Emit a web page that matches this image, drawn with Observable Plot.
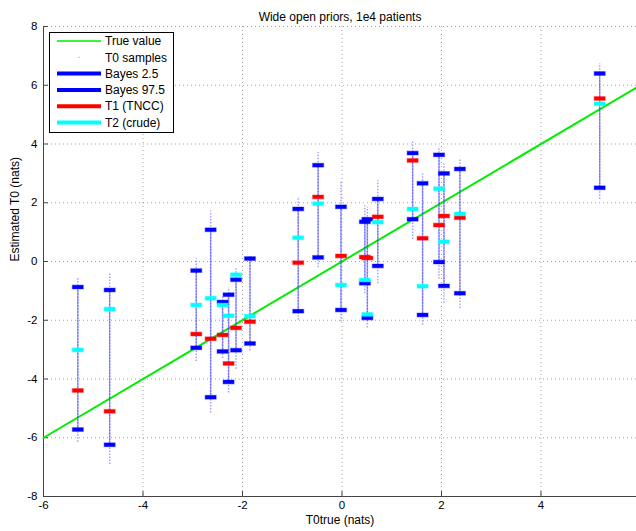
<!DOCTYPE html>
<html><head><meta charset="utf-8">
<script src="https://cdn.jsdelivr.net/npm/d3@7"></script>
<script src="https://cdn.jsdelivr.net/npm/@observablehq/plot@0.6"></script>
<style>
body{margin:0;background:#fff;}
#chart{width:636px;height:531px;}
</style>
</head><body><div id="chart"></div>
<script>
// True T0 value of each simulated case (x) and the estimates
const t0True   = [-5.31, -4.67, -2.93, -2.64, -2.40, -2.28, -2.13, -1.85, -0.88, -0.48, -0.02, 0.46, 0.51, 0.72, 1.42, 1.62, 1.95, 2.05, 2.37, 5.18];
const bayesLo  = [-5.72, -6.24, -2.94, -4.62, -3.06, -4.10, -3.02, -2.79, -1.69, 0.14, -1.65, -0.74, -1.92, -0.15, 1.44, -1.82, -0.02, -0.83, -1.08, 2.51];
const bayesHi  = [-0.87, -0.97, -0.31, 1.08, -1.38, -1.13, -0.62, 0.10, 1.79, 3.28, 1.86, 1.35, 1.44, 2.13, 3.69, 2.66, 3.63, 3.00, 3.15, 6.40];
const t1Tncc   = [-4.39, -5.10, -2.47, -2.63, -2.50, -3.47, -2.26, -2.05, -0.04, 2.20, 0.19, 0.15, 0.12, 1.52, 3.44, 0.79, 1.24, 1.55, 1.49, 5.55];
const t2Crude  = [-3.01, -1.62, -1.48, -1.25, -1.48, -1.85, -0.45, -1.86, 0.81, 1.97, -0.80, -0.63, -1.80, 1.34, 1.79, -0.84, 2.48, 0.67, 1.62, 5.37];
const sampleLo = [-6.15, -6.91, -3.40, -5.16, -3.30, -4.48, -3.67, -3.05, -2.00, -0.21, -2.05, -1.10, -2.26, -0.76, 0.75, -2.17, -0.60, -1.42, -1.60, 2.12];
const sampleHi = [-0.56, -0.42, 0.09, 1.72, -1.20, -0.89, -0.22, 0.22, 2.20, 3.71, 2.75, 1.90, 1.85, 2.75, 4.10, 2.98, 3.90, 3.32, 3.50, 6.73];

const xTicks = [-6, -4, -2, 0, 2, 4];
const yTicks = [-8, -6, -4, -2, 0, 2, 4, 6, 8];
const xDomain = [-6, 5.92];
const yDomain = [-8, 8];
const legendLabels = ["True value", "T0 samples", "Bayes 2.5", "Bayes 97.5", "T1 (TNCC)", "T2 (crude)"];
const legendColors = ["#00ee00", "#3b3bff", "#0000ff", "#0000ff", "#ff0000", "#00ffff"];

const rows = t0True.map((x, i) => ({
  x, lo: bayesLo[i], hi: bayesHi[i], t1: t1Tncc[i], t2: t2Crude[i], sLo: sampleLo[i], sHi: sampleHi[i]
}));

const barSymbol = {draw(ctx) { ctx.rect(-5.5, -1.9, 11, 3.8); }};
const font = "'Liberation Sans', Arial, Helvetica, sans-serif";
const barOpts = (y, color) => ({x: "x", y, symbol: barSymbol, fill: color, stroke: color, strokeOpacity: 0.35, strokeWidth: 1.2});

const plot = Plot.plot({
  width: 636, height: 531,
  marginLeft: 43, marginRight: 0, marginTop: 26, marginBottom: 35,
  style: {fontFamily: font, fontSize: "11.5px", color: "#000", background: "#fff"},
  x: {domain: xDomain, ticks: xTicks},
  y: {domain: yDomain, ticks: yTicks},
  marks: [
    Plot.gridX({ticks: xTicks.filter(d => d > xDomain[0]), stroke: "#999", strokeOpacity: 0.9, strokeDasharray: "1,3"}),
    Plot.gridY({ticks: yTicks.filter(d => d > yDomain[0]), stroke: "#999", strokeOpacity: 0.9, strokeDasharray: "1,3"}),
    Plot.ruleX([xDomain[0]], {stroke: "#444", strokeWidth: 1}),
    Plot.ruleY([yDomain[0]], {stroke: "#444", strokeWidth: 1}),
    Plot.ruleX(xTicks, {x: d => d, y1: yDomain[0], y2: yDomain[0] + 0.17, stroke: "#444"}),
    Plot.ruleY(yTicks, {y: d => d, x1: xDomain[0], x2: xDomain[0] + 0.1, stroke: "#444"}),
    Plot.axisX({ticks: xTicks, tickSize: 0, tickPadding: 4, tickFormat: d => String(d), label: null, fontSize: 11.5}),
    Plot.axisY({ticks: yTicks, tickSize: 0, tickPadding: 6, tickFormat: d => String(d), label: null, fontSize: 11.5}),
    // true value line y = x
    Plot.line(xDomain, {x: d => d, y: d => d, stroke: "#00ee00", strokeWidth: 2}),
    // T0 samples
    Plot.ruleX(rows, {x: "x", y1: "sLo", y2: "sHi", stroke: "#3b3bff", strokeOpacity: 0.5, strokeWidth: 1.4, strokeDasharray: "1.5,1.5"}),
    Plot.ruleX(rows, {x: "x", y1: "lo", y2: "hi", stroke: "#3b3bff", strokeOpacity: 0.5, strokeWidth: 1.4}),
    Plot.dot(rows, barOpts("hi", "#0000ff")),
    Plot.dot(rows, barOpts("lo", "#0000ff")),
    Plot.dot(rows, barOpts("t1", "#ff0000")),
    Plot.dot(rows, barOpts("t2", "#00ffff")),
    Plot.text(["Wide open priors, 1e4 patients"], {frameAnchor: "top", dy: -14, fontSize: 12, fill: "#000"}),
    Plot.text(["T0true (nats)"], {frameAnchor: "bottom", dy: 27, fontSize: 12, fill: "#000"}),
    Plot.text(["Estimated T0 (nats)"], {frameAnchor: "left", dx: -28, rotate: -90, fontSize: 12, fill: "#000"})
  ]
});

// legend box, drawn into the same SVG
const svg = d3.select(plot);
const lg = svg.append("g").attr("font-family", font).attr("font-size", 12).attr("text-anchor", "start");
lg.append("rect").attr("x", 49.5).attr("y", 32.5).attr("width", 124).attr("height", 100)
  .attr("fill", "#fff").attr("stroke", "#000").attr("stroke-width", 1);
legendLabels.forEach((lab, i) => {
  const y = 41 + i * 16.3;
  if (i === 1) {
    lg.append("rect").attr("x", 78.5).attr("y", y - 0.5).attr("width", 1).attr("height", 1).attr("fill", legendColors[i]).attr("opacity", 0.7);
  } else {
    lg.append("line").attr("x1", 57).attr("x2", 101).attr("y1", y).attr("y2", y)
      .attr("stroke", legendColors[i]).attr("stroke-width", i === 0 ? 1.5 : 4);
  }
  lg.append("text").attr("x", 105).attr("y", y).attr("dy", "0.35em").attr("text-anchor", "start").attr("fill", "#000").text(lab);
});

document.getElementById("chart").appendChild(plot);
</script>
</body></html>
